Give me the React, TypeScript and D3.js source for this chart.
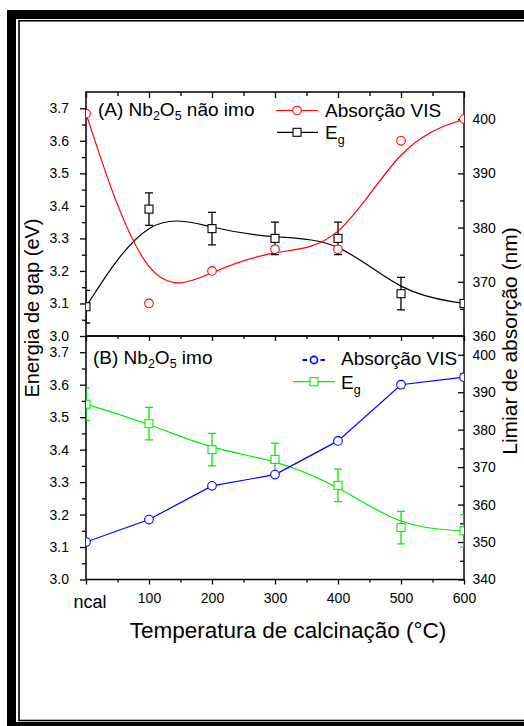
import React, { useEffect, useRef } from 'react';
import * as d3 from 'd3';

// temperatures (0 = "ncal")
const temps = [0, 100, 200, 300, 400, 500, 600];
const xMajor = [0, 100, 200, 300, 400, 500, 600];
const xMinor = [50, 150, 250, 350, 450, 550];
const xLabels = ['', '100', '200', '300', '400', '500', '600'];

// (A) Nb2O5 não imo
const egA = [3.09, 3.39, 3.33, 3.3, 3.3, 3.13, 3.1];
const egAErr = [0.05, 0.05, 0.05, 0.05, 0.05, 0.05, 0];
const absA = [401, 366, 372, 376, 376, 396, 400];

// (B) Nb2O5 imo
const egB = [3.54, 3.48, 3.4, 3.37, 3.29, 3.16, 3.15];
const egBErr = [0.05, 0.05, 0.05, 0.05, 0.05, 0.05, 0.05];
const absB = [350, 356, 365, 368, 377, 392, 394];

const leftMajor = [3.0, 3.1, 3.2, 3.3, 3.4, 3.5, 3.6, 3.7];
const leftMinor = [3.05, 3.15, 3.25, 3.35, 3.45, 3.55, 3.65];
const rightMajorA = [360, 370, 380, 390, 400];
const rightMinorA = [365, 375, 385, 395];
const rightMajorB = [340, 350, 360, 370, 380, 390, 400];
const rightMinorB = [345, 355, 365, 375, 385, 395];

const FONT = '"Liberation Sans", Arial, sans-serif';
const RED = '#ff0000';
const BLUE = '#0000ff';
const GREEN = '#00ee00';

const App = () => {
  const ref = useRef(null);

  useEffect(() => {
    d3.select(ref.current).selectAll('*').remove();
    const svg = d3.select(ref.current);

    const left = 86, right = 464;
    const topA = 92, mid = 336, botB = 579.5;

    // page frame
    svg.append('rect').attr('x', 11.5).attr('y', 14.5).attr('width', 600).attr('height', 712)
      .attr('fill', 'none').attr('stroke', '#000').attr('stroke-width', 9);
    svg.append('rect').attr('x', 19).attr('y', 20.75).attr('width', 600).attr('height', 699.75)
      .attr('fill', 'none').attr('stroke', '#000').attr('stroke-width', 1.6);

    const x = d3.scaleLinear().domain([0, 600]).range([left, right]);
    const yLA = d3.scaleLinear().domain([3.0, 3.75]).range([mid, topA]);
    const yRA = d3.scaleLinear().domain([360, 405]).range([mid, topA]);
    const yLB = d3.scaleLinear().domain([3.0, 3.75]).range([botB, mid]);
    const yRB = d3.scaleLinear().domain([340, 405]).range([botB, mid]);

    const defs = svg.append('defs');
    defs.append('clipPath').attr('id', 'clipA').append('rect')
      .attr('x', left).attr('y', topA).attr('width', right - left).attr('height', mid - topA);
    defs.append('clipPath').attr('id', 'clipB').append('rect')
      .attr('x', left).attr('y', mid).attr('width', right - left).attr('height', botB - mid);

    const styleAxis = (g, labels = true) => {
      g.select('.domain').remove();
      g.selectAll('line').attr('stroke', '#000').attr('stroke-width', 1.3);
      g.selectAll('text').attr('font-family', FONT).attr('font-size', 14).attr('fill', '#000');
      if (!labels) g.selectAll('text').remove();
    };

    const addY = (scale, major, minor, side, xPos, fmt) => {
      if (side === 'left') {
        svg.append('g').attr('transform', `translate(${xPos},0)`)
          .call(d3.axisLeft(scale).tickValues(major).tickSize(6).tickPadding(11).tickFormat(fmt))
          .call(styleAxis);
        svg.append('g').attr('transform', `translate(${xPos},0)`)
          .call(d3.axisLeft(scale).tickValues(minor).tickSize(4).tickFormat(() => ''))
          .call((g) => styleAxis(g, false));
      } else {
        svg.append('g').attr('transform', `translate(${xPos},0)`)
          .call(d3.axisRight(scale).tickValues(major).tickSizeInner(-6).tickSizeOuter(0).tickPadding(8.5).tickFormat(fmt))
          .call(styleAxis);
        svg.append('g').attr('transform', `translate(${xPos},0)`)
          .call(d3.axisRight(scale).tickValues(minor).tickSizeInner(-4).tickSizeOuter(0).tickFormat(() => ''))
          .call((g) => styleAxis(g, false));
      }
    };

    const f1 = d3.format('.1f');
    const f0 = d3.format('d');
    addY(yLA, leftMajor, leftMinor, 'left', left, f1);
    addY(yLB, leftMajor, leftMinor, 'left', left, f1);
    addY(yRA, rightMajorA, rightMinorA, 'right', right, f0);
    addY(yRB, rightMajorB, rightMinorB, 'right', right, f0);

    // x axes: top of panel A (ticks inward), shared line, bottom
    svg.append('g').attr('transform', `translate(0,${topA})`)
      .call(d3.axisTop(x).tickValues(xMajor).tickSizeInner(-6).tickSizeOuter(0).tickFormat(() => ''))
      .call((g) => styleAxis(g, false));
    svg.append('g').attr('transform', `translate(0,${topA})`)
      .call(d3.axisTop(x).tickValues(xMinor).tickSizeInner(-4).tickSizeOuter(0).tickFormat(() => ''))
      .call((g) => styleAxis(g, false));
    [mid, botB].forEach((yy, i) => {
      svg.append('g').attr('transform', `translate(0,${yy})`)
        .call(d3.axisBottom(x).tickValues(xMajor).tickSize(5).tickPadding(8.5)
          .tickFormat((d) => xLabels[xMajor.indexOf(d)]))
        .call((g) => styleAxis(g, i === 1));
      svg.append('g').attr('transform', `translate(0,${yy})`)
        .call(d3.axisBottom(x).tickValues(xMinor).tickSize(3).tickFormat(() => ''))
        .call((g) => styleAxis(g, false));
    });

    // panel frames
    [[topA, mid], [mid, botB]].forEach(([t, b]) => {
      svg.append('rect').attr('x', left).attr('y', t).attr('width', right - left).attr('height', b - t)
        .attr('fill', 'none').attr('stroke', '#000').attr('stroke-width', 1.5);
    });

    const drawSeries = (clip, vals, yS, color, curve, marker, errs) => {
      const g = svg.append('g').attr('clip-path', `url(#${clip})`);
      const line = d3.line().x((d, i) => x(temps[i])).y((d) => yS(d)).curve(curve);
      g.append('path').datum(vals).attr('d', line).attr('fill', 'none')
        .attr('stroke', color).attr('stroke-width', 1.2);
      if (errs) {
        vals.forEach((v, i) => {
          if (!errs[i]) return;
          const cx = x(temps[i]);
          const y1 = yS(v + errs[i]), y2 = yS(v - errs[i]);
          g.append('path')
            .attr('d', `M${cx},${y1}V${y2}M${cx - 4},${y1}H${cx + 4}M${cx - 4},${y2}H${cx + 4}`)
            .attr('stroke', color).attr('stroke-width', 1.3).attr('fill', 'none');
        });
      }
      vals.forEach((v, i) => {
        const cx = x(temps[i]), cy = yS(v);
        if (marker === 'circle') {
          g.append('circle').attr('cx', cx).attr('cy', cy).attr('r', 4.3)
            .attr('fill', '#fff').attr('stroke', color).attr('stroke-width', 1.1);
        } else {
          g.append('rect').attr('x', cx - 4).attr('y', cy - 4).attr('width', 8).attr('height', 8)
            .attr('fill', '#fff').attr('stroke', color).attr('stroke-width', 1.1);
        }
      });
    };

    drawSeries('clipA', egA, yLA, '#000', d3.curveBasis, 'square', egAErr);
    drawSeries('clipA', absA, yRA, RED, d3.curveBasis, 'circle', null);
    drawSeries('clipB', egB, yLB, GREEN, d3.curveBasis, 'square', egBErr);
    drawSeries('clipB', absB, yRB, BLUE, d3.curveLinear, 'circle', null);

    const txt = (xx, yy, size = 19) =>
      svg.append('text').attr('x', xx).attr('y', yy).attr('font-family', FONT)
        .attr('font-size', size).attr('fill', '#000');

    const nbLabel = (xx, yy, tail) => {
      const t = txt(xx, yy);
      t.append('tspan').text('(' + tail[0] + ') Nb');
      t.append('tspan').attr('font-size', 12.5).attr('dy', 4).text('2');
      t.append('tspan').attr('dy', -4).text('O');
      t.append('tspan').attr('font-size', 12.5).attr('dy', 4).text('5');
      t.append('tspan').attr('dy', -4).text(tail[1]);
    };
    nbLabel(98, 116, ['A', ' não imo']);
    nbLabel(93, 364, ['B', ' imo']);

    const egLabel = (xx, yy) => {
      const t = txt(xx, yy);
      t.append('tspan').text('E');
      t.append('tspan').attr('font-size', 12.5).attr('dy', 5).text('g');
    };

    // legend A
    svg.append('line').attr('x1', 276).attr('x2', 318).attr('y1', 110.5).attr('y2', 110.5)
      .attr('stroke', RED).attr('stroke-width', 1.2);
    svg.append('circle').attr('cx', 297).attr('cy', 110.5).attr('r', 4.3)
      .attr('fill', '#fff').attr('stroke', RED).attr('stroke-width', 1.1);
    txt(325, 116.5).text('Absorção VIS');
    svg.append('line').attr('x1', 277).attr('x2', 318).attr('y1', 132.3).attr('y2', 132.3)
      .attr('stroke', '#000').attr('stroke-width', 1.2);
    svg.append('rect').attr('x', 293).attr('y', 128.3).attr('width', 8).attr('height', 8)
      .attr('fill', '#fff').attr('stroke', '#000').attr('stroke-width', 1.1);
    egLabel(325, 138.5);

    // legend B
    svg.append('path').attr('d', 'M302.5,360H307M320.5,360H325').attr('stroke', BLUE).attr('stroke-width', 2);
    svg.append('circle').attr('cx', 314).attr('cy', 360).attr('r', 3.6)
      .attr('fill', '#fff').attr('stroke', BLUE).attr('stroke-width', 1.6);
    txt(341, 365).text('Absorção VIS');
    svg.append('line').attr('x1', 293).attr('x2', 335).attr('y1', 381.7).attr('y2', 381.7)
      .attr('stroke', GREEN).attr('stroke-width', 1.2);
    svg.append('rect').attr('x', 310).attr('y', 377.7).attr('width', 8).attr('height', 8)
      .attr('fill', '#fff').attr('stroke', GREEN).attr('stroke-width', 1.1);
    egLabel(341, 389);

    // axis titles
    txt(90, 608, 18).attr('text-anchor', 'middle').text('ncal');
    txt(288, 638, 22.5).attr('text-anchor', 'middle').text('Temperatura de calcinação (°C)');
    txt(0, 0, 20).attr('text-anchor', 'middle').attr('transform', 'translate(39,308) rotate(-90)')
      .text('Energia de gap (eV)');
    txt(0, 0, 21).attr('text-anchor', 'middle').attr('transform', 'translate(517,341) rotate(-90)')
      .text('Limiar de absorção (nm)');
  }, []);

  return (
    <svg
      ref={ref}
      width={524}
      height={726}
      style={{ position: 'absolute', left: 0, top: 0, background: '#fff', display: 'block' }}
    />
  );
};

export default App;
